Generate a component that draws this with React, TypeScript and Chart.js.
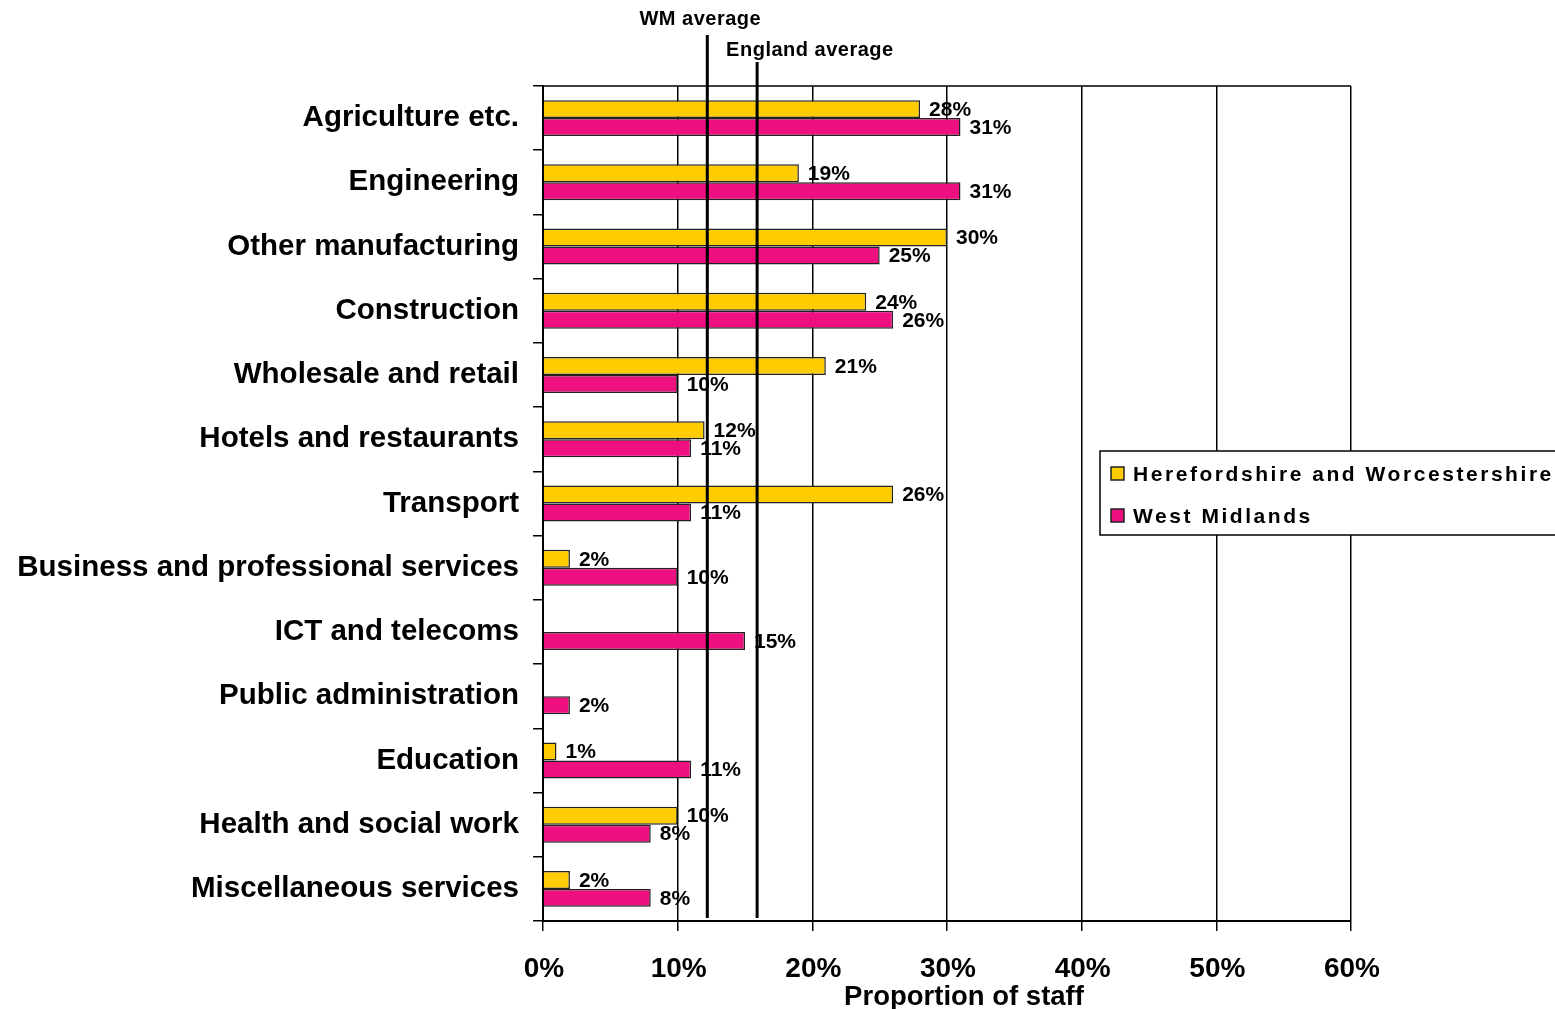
import React, { useEffect, useRef } from "react";
import { Chart, registerables } from "chart.js";

Chart.register(...registerables);

const categories = [
  "Agriculture etc.",
  "Engineering",
  "Other manufacturing",
  "Construction",
  "Wholesale and retail",
  "Hotels and restaurants",
  "Transport",
  "Business and professional services",
  "ICT and telecoms",
  "Public administration",
  "Education",
  "Health and social work",
  "Miscellaneous services",
];

const herefordWorcs = [28, 19, 30, 24, 21, 12, 26, 2, 0, 0, 1, 10, 2];
const westMidlands = [31, 31, 25, 26, 10, 11, 11, 10, 15, 2, 11, 8, 8];

const xTicks = [0, 10, 20, 30, 40, 50, 60];
const WM_AVERAGE = 12.2;
const ENGLAND_AVERAGE = 15.9;

const FONT = '"Liberation Sans", Arial, sans-serif';
const YELLOW = "#FFCC00";
const PINK = "#EE1080";

const overlayPlugin = {
  id: "overlay",
  afterDatasetsDraw(chart: any) {
    const ctx = chart.ctx;
    const ca = chart.chartArea;
    const xs = chart.scales.x;
    ctx.save();
    // top border
    ctx.strokeStyle = "#000";
    ctx.lineWidth = 1.5;
    ctx.beginPath();
    ctx.moveTo(ca.left, ca.top);
    ctx.lineTo(ca.right, ca.top);
    ctx.stroke();

    // data labels
    ctx.fillStyle = "#000";
    ctx.font = `bold 21px ${FONT}`;
    ctx.textAlign = "left";
    ctx.textBaseline = "middle";
    chart.data.datasets.forEach((ds: any, di: number) => {
      const meta = chart.getDatasetMeta(di);
      meta.data.forEach((bar: any, i: number) => {
        const v = ds.data[i];
        if (v > 0) ctx.fillText(`${v}%`, bar.x + 9, bar.y + 1);
      });
    });

    // average lines
    const wmX = xs.getPixelForValue(WM_AVERAGE);
    const enX = xs.getPixelForValue(ENGLAND_AVERAGE);
    ctx.lineWidth = 3;
    ctx.beginPath();
    ctx.moveTo(wmX, 35);
    ctx.lineTo(wmX, ca.bottom - 3);
    ctx.moveTo(enX, 62);
    ctx.lineTo(enX, ca.bottom - 3);
    ctx.stroke();

    ctx.font = `bold 20px ${FONT}`;
    (ctx as any).letterSpacing = "0.5px";
    ctx.textAlign = "center";
    ctx.fillText("WM average", wmX - 7, 19);
    ctx.textAlign = "left";
    ctx.fillText("England average", enX - 31, 50);
    (ctx as any).letterSpacing = "0px";

    // x tick labels
    ctx.font = `bold 28px ${FONT}`;
    ctx.textAlign = "center";
    xTicks.forEach((t) => {
      const px = xs.getPixelForValue(t);
      ctx.fillText(`${t}%`, px + 1, 969);
    });

    // axis title
    ctx.font = `bold 27.5px ${FONT}`;
    ctx.fillText("Proportion of staff", 964, 997);

    // legend
    ctx.fillStyle = "#fff";
    ctx.fillRect(1100, 451, 470, 84);
    ctx.lineWidth = 1.5;
    ctx.strokeStyle = "#000";
    ctx.strokeRect(1100, 451, 470, 84);
    const items = [
      { label: "Herefordshire and Worcestershire", color: YELLOW, y: 473 },
      { label: "West Midlands", color: PINK, y: 515 },
    ];
    ctx.font = `bold 21px ${FONT}`;
    (ctx as any).letterSpacing = "2.55px";
    ctx.textAlign = "left";
    items.forEach((it) => {
      ctx.fillStyle = it.color;
      ctx.fillRect(1111, it.y - 6, 13, 13);
      ctx.lineWidth = 1.5;
      ctx.strokeStyle = "#222";
      ctx.strokeRect(1111, it.y - 6, 13, 13);
      ctx.fillStyle = "#000";
      ctx.fillText(it.label, 1133, it.y + 2);
    });
    (ctx as any).letterSpacing = "0px";
    ctx.restore();
  },
};

export default function App() {
  const ref = useRef<HTMLCanvasElement>(null);
  useEffect(() => {
    if (!ref.current) return;
    const chart = new Chart(ref.current, {
      type: "bar",
      data: {
        labels: categories,
        datasets: [
          {
            label: "Herefordshire and Worcestershire",
            data: herefordWorcs,
            backgroundColor: YELLOW,
            borderColor: "#222",
            borderWidth: 1.5,
            categoryPercentage: 0.56,
            barPercentage: 1,
          },
          {
            label: "West Midlands",
            data: westMidlands,
            backgroundColor: PINK,
            borderColor: "#222",
            borderWidth: 1.5,
            categoryPercentage: 0.56,
            barPercentage: 1,
          },
        ],
      },
      options: {
        indexAxis: "y",
        animation: false,
        responsive: false,
        layout: { padding: { top: 86, right: 204, bottom: 0, left: 0 } },
        plugins: {
          legend: { display: false },
          tooltip: { enabled: false },
        },
        scales: {
          x: {
            min: 0,
            max: 60,
            ticks: { stepSize: 10, display: false },
            grid: {
              color: "#000",
              lineWidth: 1.5,
              tickLength: 10,
              drawTicks: true,
            },
            border: { color: "#000", width: 2 },
            afterFit: (s: any) => {
              s.height = 88;
            },
          },
          y: {
            grid: {
              color: "#000",
              lineWidth: 1.5,
              tickLength: 10,
              drawOnChartArea: false,
              offset: true,
            },
            border: { color: "#000", width: 2 },
            ticks: {
              color: "#000",
              padding: 14,
              font: { family: FONT, size: 29.5, weight: "bold" },
              autoSkip: false,
            },
            afterFit: (s: any) => {
              s.width = 543;
            },
          },
        },
      },
      plugins: [overlayPlugin],
    } as any);
    return () => chart.destroy();
  }, []);
  return (
    <div style={{ position: "fixed", left: 0, top: 0, width: 1555, height: 1009, background: "#fff" }}>
      <canvas ref={ref} width={1555} height={1009} style={{ display: "block" }} />
    </div>
  );
}
